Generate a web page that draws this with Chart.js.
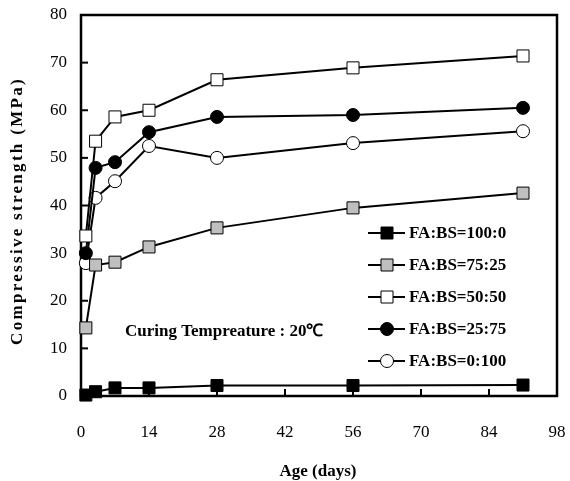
<!DOCTYPE html>
<html>
<head>
<meta charset="utf-8">
<script src="https://cdn.jsdelivr.net/npm/chart.js@4.4.1/dist/chart.umd.min.js"></script>
<style>
  html, body { margin: 0; padding: 0; background: #fff; }
  canvas { display: block; }
</style>
</head>
<body>
<canvas id="mycanvas" width="570" height="481"></canvas>
<script>
// ages (days) and compressive strength (MPa)
var ages = [1, 3, 7, 14, 28, 56, 91];
var fa100_0 = [0.2, 0.9, 1.7, 1.7, 2.2, 2.2, 2.3];
var fa75_25 = [14.3, 27.5, 28.1, 31.3, 35.3, 39.5, 42.6];
var fa50_50 = [33.6, 53.5, 58.6, 60.0, 66.4, 68.9, 71.4];
var fa25_75 = [30.0, 47.9, 49.1, 55.4, 58.6, 59.0, 60.5];
var fa0_100 = [27.9, 41.6, 45.1, 52.5, 50.0, 53.1, 55.6];

var seriesNames = ['FA:BS=100:0', 'FA:BS=75:25', 'FA:BS=50:50', 'FA:BS=25:75', 'FA:BS=0:100'];
var xTicks = [0, 14, 28, 42, 56, 70, 84, 98];
var yTicks = [0, 10, 20, 30, 40, 50, 60, 70, 80];

var SERIF = "'Liberation Serif', 'Times New Roman', serif";

function pts(vals) {
    return ages.map(function (a, i) { return { x: a, y: vals[i] }; });
}

function makeSet(label, vals, style, fill) {
    var r = style === 'rect' ? 8.5 : 6.5;
    return {
        label: label,
        data: pts(vals),
        borderColor: '#000',
        borderWidth: 2,
        pointStyle: style,
        pointRadius: r,
        pointHoverRadius: r,
        pointBackgroundColor: fill,
        pointBorderColor: '#000',
        pointBorderWidth: 1,
        tension: 0,
        clip: false
    };
}

var chardata = {
    datasets: [
        makeSet(seriesNames[0], fa100_0, 'rect', '#000'),
        makeSet(seriesNames[1], fa75_25, 'rect', '#bfbfbf'),
        makeSet(seriesNames[2], fa50_50, 'rect', '#fff'),
        makeSet(seriesNames[3], fa25_75, 'circle', '#000'),
        makeSet(seriesNames[4], fa0_100, 'circle', '#fff')
    ]
};

// frame + inward ticks, drawn under the data
var framePlugin = {
    id: 'frame',
    beforeDatasetsDraw: function (chart) {
        var ctx = chart.ctx, a = chart.chartArea;
        var xs = chart.scales.x, ys = chart.scales.y;
        ctx.save();
        ctx.strokeStyle = '#000';
        ctx.lineWidth = 2;
        xTicks.forEach(function (v) {
            var px = xs.getPixelForValue(v);
            ctx.beginPath(); ctx.moveTo(px, a.bottom); ctx.lineTo(px, a.bottom - 7); ctx.stroke();
        });
        yTicks.forEach(function (v) {
            var py = ys.getPixelForValue(v);
            ctx.beginPath(); ctx.moveTo(a.left, py); ctx.lineTo(a.left + 7, py); ctx.stroke();
        });
        ctx.lineWidth = 2.5;
        ctx.strokeRect(a.left, a.top, a.right - a.left, a.bottom - a.top);
        ctx.restore();
    },
    afterDraw: function (chart) {
        var ctx = chart.ctx, a = chart.chartArea;
        ctx.save();
        ctx.fillStyle = '#000';

        // y axis title, letter spaced
        ctx.font = 'bold 17px ' + SERIF;
        ctx.textAlign = 'center';
        ctx.textBaseline = 'middle';
        ctx.letterSpacing = '2.3px';
        ctx.translate(18, 211);
        ctx.rotate(-Math.PI / 2);
        ctx.fillText('Compressive strength (MPa)', 0, 0);
        ctx.setTransform(1, 0, 0, 1, 0, 0);
        ctx.letterSpacing = '0px';

        // x axis title
        ctx.fillText('Age (days)', 318, 472);

        // annotation
        ctx.font = 'bold 17px ' + SERIF;
        ctx.textAlign = 'left';
        ctx.fillText('Curing Tempreature : 20\u2103', 125, 332);

        // legend: line + marker + label
        var rowY = [233, 265, 297, 329, 361];
        chart.data.datasets.forEach(function (ds, i) {
            var y = rowY[i];
            ctx.strokeStyle = '#000';
            ctx.lineWidth = 2;
            ctx.beginPath(); ctx.moveTo(368, y); ctx.lineTo(405, y); ctx.stroke();
            ctx.fillStyle = ds.pointBackgroundColor;
            ctx.lineWidth = 1;
            ctx.beginPath();
            if (ds.pointStyle === 'rect') {
                ctx.rect(387 - 6, y - 6, 12, 12);
            } else {
                ctx.arc(387, y, 6.5, 0, Math.PI * 2);
            }
            ctx.fill(); ctx.stroke();
            ctx.fillStyle = '#000';
            ctx.font = 'bold 17px ' + SERIF;
            ctx.textAlign = 'left';
            ctx.textBaseline = 'middle';
            ctx.fillText(ds.label, 409, y + 1);
        });
        ctx.restore();
    }
};

var CHART = document.getElementById('mycanvas');

var graph = new Chart(CHART, {
    type: 'line',
    data: chardata,
    options: {
        responsive: false,
        animation: false,
        devicePixelRatio: 1,
        layout: { padding: { top: 15, right: 13, left: 0, bottom: 0 } },
        plugins: {
            legend: { display: false },
            tooltip: { enabled: false }
        },
        scales: {
            x: {
                type: 'linear',
                min: 0,
                max: 98,
                afterBuildTicks: function (s) { s.ticks = xTicks.map(function (v) { return { value: v }; }); },
                afterFit: function (s) { s.height = 85; s.paddingLeft = 0; s.paddingRight = 0; },
                grid: { display: false, drawTicks: false },
                border: { display: false },
                ticks: {
                    padding: 26,
                    color: '#000',
                    maxRotation: 0,
                    font: { family: SERIF, size: 17 }
                }
            },
            y: {
                min: 0,
                max: 80,
                afterBuildTicks: function (s) { s.ticks = yTicks.map(function (v) { return { value: v }; }); },
                afterFit: function (s) { s.width = 81; s.paddingTop = 0; s.paddingBottom = 0; },
                grid: { display: false, drawTicks: false },
                border: { display: false },
                ticks: {
                    padding: 14,
                    color: '#000',
                    font: { family: SERIF, size: 17 }
                }
            }
        }
    },
    plugins: [framePlugin]
});
</script>
</body>
</html>
